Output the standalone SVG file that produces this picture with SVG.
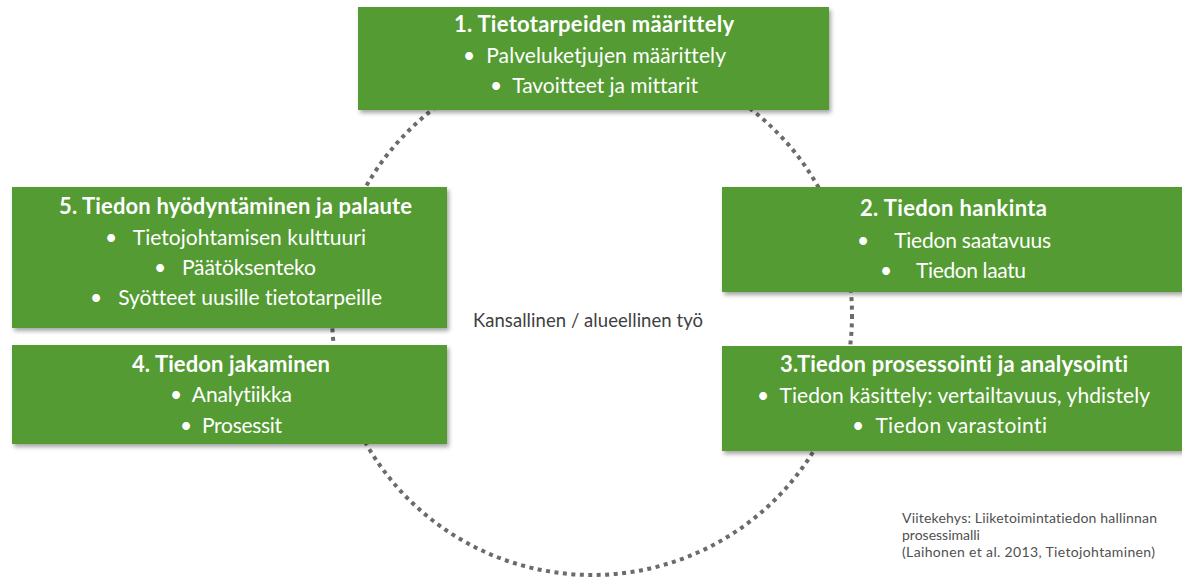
<svg xmlns="http://www.w3.org/2000/svg" width="1182" height="577" viewBox="0 0 1182 577">
<style>
.box{fill:#539b31;filter:url(#sh)}
text{font-variant-ligatures:none;font-feature-settings:"liga" 0,"clig" 0}
.t{font-family:Lato,"Liberation Sans",sans-serif;fill:#ffffff;white-space:pre}
.h{font-size:22px;font-weight:bold}
.b{font-size:21px}
.g{font-family:Lato,"Liberation Sans",sans-serif;fill:#404040}
.c{font-family:Lato,"Liberation Sans",sans-serif;fill:#505050;font-size:14px}
</style>
<defs>
<filter id="sh" x="-5%" y="-10%" width="115%" height="130%">
<feDropShadow dx="2" dy="3" stdDeviation="2" flood-color="#000" flood-opacity="0.35"/>
</filter>
</defs>
<rect width="1182" height="577" fill="#ffffff"/>
<g id="connectors">
<circle cx="592" cy="315" r="260" fill="none" stroke="#6b6b6b" stroke-width="4" stroke-dasharray="4 4.5"/>
</g>
<g id="n1">
<rect class="box" x="358" y="7" width="471" height="103"/>
<text class="t h" x="454" y="32" textLength="280" lengthAdjust="spacing">1. Tietotarpeiden määrittely</text>
<text class="t b" x="463" y="63" textLength="263" lengthAdjust="spacing" xml:space="preserve">•  Palveluketjujen määrittely</text>
<text class="t b" x="490" y="93" textLength="208" lengthAdjust="spacing" xml:space="preserve">•  Tavoitteet ja mittarit</text>
</g>
<g id="n2">
<rect class="box" x="722" y="187" width="470" height="105"/>
<text class="t h" x="860" y="216" textLength="187" lengthAdjust="spacing">2. Tiedon hankinta</text>
<text class="t b" x="857" y="248" textLength="194" lengthAdjust="spacing" xml:space="preserve">•     Tiedon saatavuus</text>
<text class="t b" x="880" y="278" textLength="146" lengthAdjust="spacing" xml:space="preserve">•     Tiedon laatu</text>
</g>
<g id="n3">
<rect class="box" x="722" y="346" width="470" height="105"/>
<text class="t h" x="780" y="372" textLength="348" lengthAdjust="spacing">3.Tiedon prosessointi ja analysointi</text>
<text class="t b" x="757" y="403" textLength="393" lengthAdjust="spacing" xml:space="preserve">•  Tiedon käsittely: vertailtavuus, yhdistely</text>
<text class="t b" x="852" y="433" textLength="195" lengthAdjust="spacing" xml:space="preserve">•  Tiedon varastointi</text>
</g>
<g id="n4">
<rect class="box" x="12" y="345" width="435" height="99"/>
<text class="t h" x="132" y="372" textLength="198" lengthAdjust="spacing">4. Tiedon jakaminen</text>
<text class="t b" x="170" y="402" textLength="122" lengthAdjust="spacing" xml:space="preserve">•  Analytiikka</text>
<text class="t b" x="180" y="433" textLength="102" lengthAdjust="spacing" xml:space="preserve">•  Prosessit</text>
</g>
<g id="n5">
<rect class="box" x="12" y="187" width="435" height="141"/>
<text class="t h" x="59" y="214" textLength="353" lengthAdjust="spacing">5. Tiedon hyödyntäminen ja palaute</text>
<text class="t b" x="105" y="245" textLength="261" lengthAdjust="spacing" xml:space="preserve">•   Tietojohtamisen kulttuuri</text>
<text class="t b" x="154" y="275" textLength="162" lengthAdjust="spacing" xml:space="preserve">•   Päätöksenteko</text>
<text class="t b" x="90" y="305" textLength="292" lengthAdjust="spacing" xml:space="preserve">•   Syötteet uusille tietotarpeille</text>
</g>
<g id="center-label">
<text class="g" x="473" y="327" font-size="18.5" textLength="230" lengthAdjust="spacing">Kansallinen / alueellinen työ</text>
</g>
<g id="citation">
<text class="c" x="902" y="523" textLength="255" lengthAdjust="spacing">Viitekehys: Liiketoimintatiedon hallinnan</text>
<text class="c" x="902" y="540">prosessimalli</text>
<text class="c" x="902" y="557" textLength="253" lengthAdjust="spacing">(Laihonen et al. 2013, Tietojohtaminen)</text>
</g>
</svg>
